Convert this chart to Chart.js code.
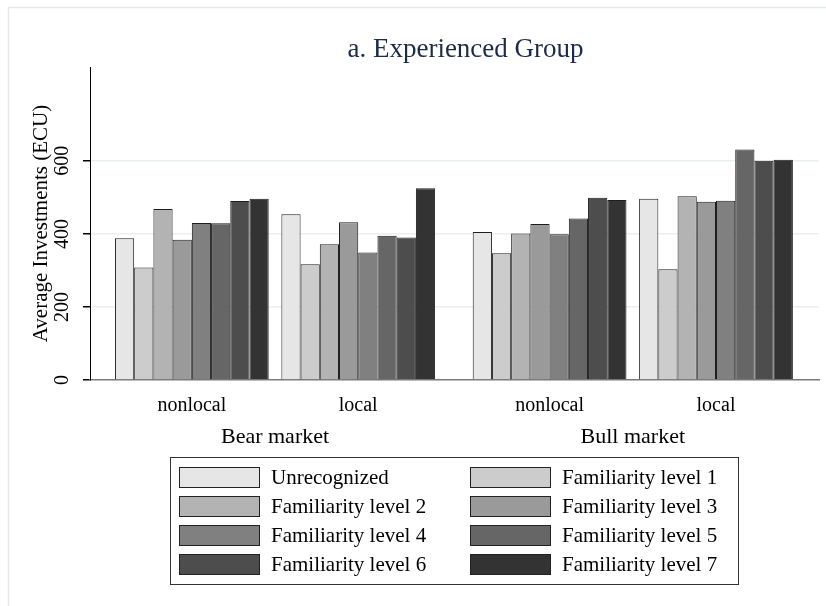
<!DOCTYPE html>
<html><head><meta charset="utf-8">
<script src="https://cdn.jsdelivr.net/npm/chart.js@4.4.1/dist/chart.umd.min.js"></script>
<style>html,body{margin:0;padding:0;background:#fff;}#wrap{position:relative;width:826px;height:606px;}</style>
</head><body><div id="wrap"><canvas id="c" width="826" height="606"></canvas></div>
<script>
// ---- data ----
const titleText = 'a. Experienced Group';
const yTitle = 'Average Investments (ECU)';
const markets = ['Bear market', 'Bull market'];
const locations = ['nonlocal', 'local'];
const seriesNames = ['Unrecognized', 'Familiarity level 1', 'Familiarity level 2', 'Familiarity level 3',
  'Familiarity level 4', 'Familiarity level 5', 'Familiarity level 6', 'Familiarity level 7'];
// order of groups: Bear-nonlocal, Bear-local, Bull-nonlocal, Bull-local
const unrecognized = [388, 454, 405, 496];
const fam1 = [308, 317, 347, 303];
const fam2 = [468, 372, 401, 503];
const fam3 = [384, 432, 427, 488];
const fam4 = [430, 349, 399, 491];
const fam5 = [429, 395, 442, 631];
const fam6 = [490, 390, 499, 600];
const fam7 = [496, 525, 493, 603];
const yTicks = [0, 200, 400, 600];

// ---- styling / layout ----
const seriesValues = [unrecognized, fam1, fam2, fam3, fam4, fam5, fam6, fam7];
const fills = ['#e6e6e6', '#cccccc', '#b3b3b3', '#9a9a9a', '#808080', '#666666', '#4d4d4d', '#333333'];
const marketGap = 0.15;
const groupLabels = [];
const groupPos = [];
markets.forEach((m, mi) => locations.forEach((l, li) => {
  groupLabels.push(l);
  groupPos.push(mi * (locations.length + marketGap) + li);
}));
const serif = '"Liberation Serif", "Times New Roman", serif';

const datasets = seriesNames.map((name, k) => ({
  label: name,
  data: seriesValues[k].map((v, i) => ({ x: groupPos[i], y: v })),
  backgroundColor: fills[k],
  borderColor: '#1e1e1e',
  borderWidth: 1,
  categoryPercentage: 0.924,
  barPercentage: 1.0
}));

const decor = {
  id: 'decor',
  beforeDraw(chart) {
    const ctx = chart.ctx;
    ctx.save();
    ctx.strokeStyle = '#e3eaee';
    ctx.lineWidth = 1.5;
    ctx.beginPath();
    ctx.moveTo(8.5, 606); ctx.lineTo(8.5, 7.5); ctx.lineTo(826, 7.5);
    ctx.stroke();
    ctx.restore();
  },
  afterDraw(chart) {
    const ctx = chart.ctx, ca = chart.chartArea, xs = chart.scales.x;
    ctx.save();
    ctx.textAlign = 'center';
    ctx.textBaseline = 'middle';
    ctx.fillStyle = '#1d2b4a';
    ctx.font = '27px ' + serif;
    ctx.fillText(titleText, (ca.left + ca.right) / 2 + 11, 50);
    ctx.fillStyle = '#000';
    ctx.font = '22px ' + serif;
    markets.forEach((m, k) => {
      const a = xs.getPixelForValue(groupPos[k * 2]);
      const b = xs.getPixelForValue(groupPos[k * 2 + 1]);
      ctx.fillText(m, (a + b) / 2, 437);
    });
    // legend box
    const L = 170, T = 457, R = 738, B = 584;
    ctx.strokeStyle = '#333';
    ctx.lineWidth = 1;
    ctx.strokeRect(L + 0.5, T + 0.5, R - L, B - T);
    const colSw = [179, 470], colTx = [271, 562], rowY = [477, 506, 535, 564];
    ctx.textAlign = 'left';
    ctx.font = '21px ' + serif;
    chart.data.datasets.forEach((ds, i) => {
      const r = Math.floor(i / 2), c = i % 2;
      const y = rowY[r];
      ctx.fillStyle = ds.backgroundColor;
      ctx.fillRect(colSw[c], y - 10, 80, 20);
      ctx.strokeStyle = '#222';
      ctx.strokeRect(colSw[c] + 0.5, y - 10 + 0.5, 80, 20);
      ctx.fillStyle = '#000';
      ctx.fillText(ds.label, colTx[c], y + 1);
    });
    ctx.restore();
  }
};

new Chart(document.getElementById('c'), {
  type: 'bar',
  data: { datasets },
  options: {
    responsive: false,
    animation: false,
    layout: { padding: { top: 67, right: 7, left: 0, bottom: 0 } },
    plugins: { legend: { display: false }, title: { display: false }, tooltip: { enabled: false } },
    scales: {
      x: {
        type: 'linear',
        offset: false,
        min: groupPos[0] - 0.612,
        max: groupPos[groupPos.length - 1] + 0.619,
        grid: { display: false, drawTicks: false, offset: false },
        border: { color: '#7a7a7a', width: 1.5 },
        afterBuildTicks: s => { s.ticks = groupPos.map(v => ({ value: v })); },
        ticks: {
          autoSkip: false, maxRotation: 0, minRotation: 0,
          callback: (v, i) => groupLabels[i],
          font: { family: serif, size: 20 }, color: '#000', padding: 14
        },
        afterFit: s => { s.height = 226; }
      },
      y: {
        min: 0, max: 857,
        afterBuildTicks: s => { s.ticks = yTicks.map(v => ({ value: v })); },
        ticks: {
          minRotation: 90, maxRotation: 90, crossAlign: 'center',
          padding: 5, font: { family: serif, size: 20 }, color: '#000'
        },
        grid: {
          color: c => (c.tick && c.tick.value === 0) ? 'rgba(0,0,0,0)' : '#e8f0f2',
          tickColor: '#000', tickLength: 7, lineWidth: 1.5
        },
        border: { color: '#000', width: 1 },
        title: {
          display: true, text: yTitle, color: '#000',
          font: { family: serif, size: 21 }, padding: { top: 29, bottom: 0 }
        },
        afterFit: s => { s.width = 90; }
      }
    }
  },
  plugins: [decor]
});
</script></body></html>
